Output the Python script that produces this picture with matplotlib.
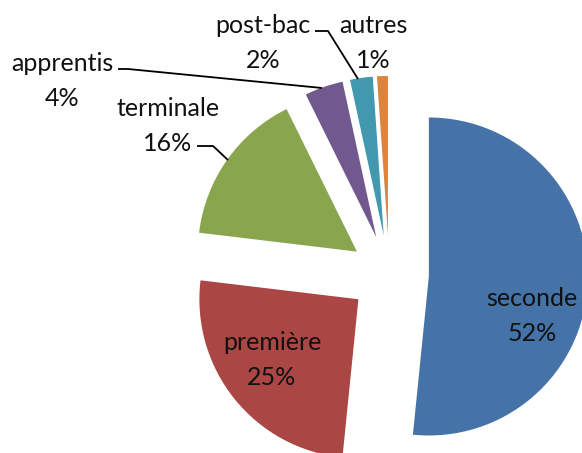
import matplotlib
matplotlib.use("Agg")
import matplotlib.pyplot as plt

# ---- data ----
categories = ["seconde", "première", "terminale", "apprentis", "post-bac", "autres"]
values = [51.6, 25.3, 15.8, 3.9, 2.3, 1.1]
colors = ["#4572A7", "#AA4643", "#89A54E", "#71588F", "#4198AF", "#DB843D"]

# ---- layout (pixel coordinates, origin bottom-left) ----
W, H = 582, 453
center = (389.3, H - 274.5)
radius = 159
explode_px = 39.6
label_pos = {
    "seconde": (532, H - 316),
    "première": (272, H - 360),
    "terminale": (168, H - 126),
    "apprentis": (62, H - 81),
    "post-bac": (263, H - 43),
    "autres": (373, H - 43),
}
leaders = {
    "terminale": [(197, 146), (213, 146), (228, 160)],
    "apprentis": [(118, 69), (128, 69), (322, 88)],
    "post-bac": [(315, 31), (328, 31), (358, 79)],
}

plt.rcParams["font.family"] = ["Lato", "DejaVu Sans"]
fig = plt.figure(figsize=(W / 100, H / 100), dpi=100)
ax = fig.add_axes([0, 0, 1, 1])

ax.pie(values, colors=colors, startangle=90, counterclock=False,
       explode=[explode_px] * len(values), radius=radius, center=center,
       wedgeprops=dict(linewidth=0), frame=True)
ax.set_xlim(0, W)
ax.set_ylim(0, H)
ax.set_aspect("equal")
ax.axis("off")

total = sum(values)
for name, v in zip(categories, values):
    x, y = label_pos[name]
    ax.text(x, y, f"{name}\n{round(100 * v / total)}%", ha="center", va="center",
            fontsize=18, color="#111111", linespacing=1.68)

for name, pts in leaders.items():
    xs = [p[0] for p in pts]
    ys = [H - p[1] for p in pts]
    ax.plot(xs, ys, color="black", linewidth=1.3, solid_capstyle="butt")

fig.savefig("out.png", dpi=100)
